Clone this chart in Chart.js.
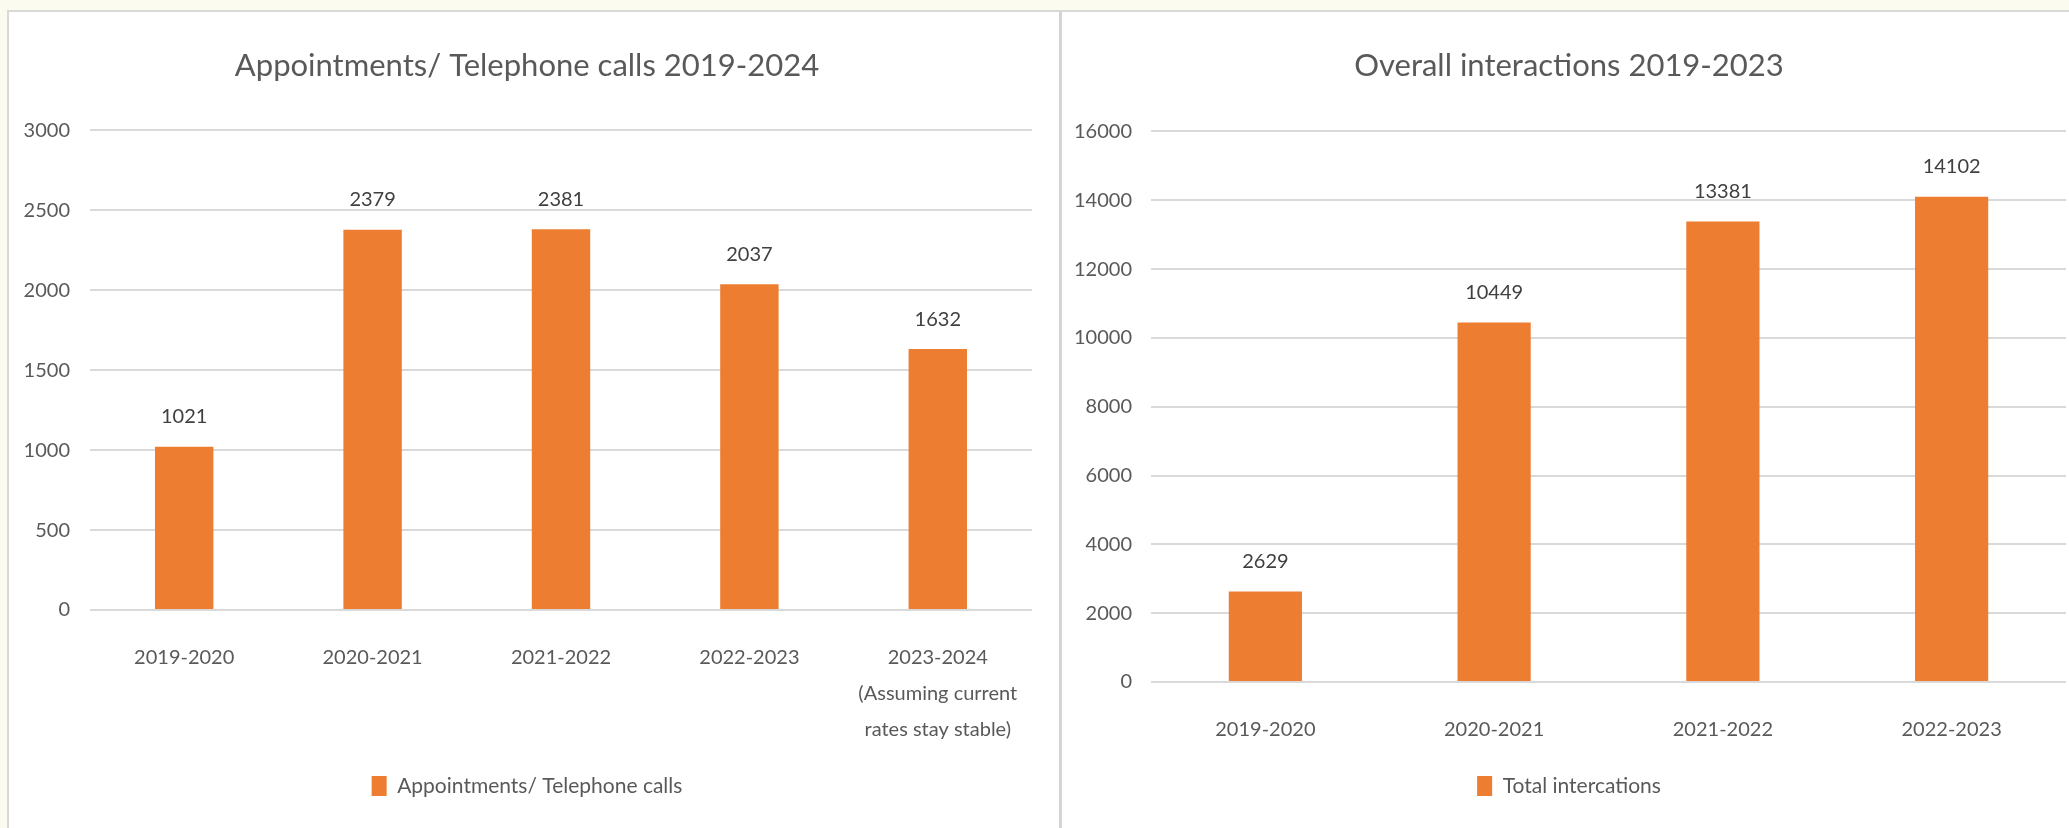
<!DOCTYPE html>
<html>
<head>
<meta charset="utf-8">
<script src="https://cdn.jsdelivr.net/npm/chart.js@4.4.1/dist/chart.umd.min.js"></script>
<style>
  html, body { margin: 0; padding: 0; }
  body { width: 2069px; height: 828px; background: #fbfcef; position: relative; overflow: hidden; }
  .panel { position: absolute; background: #fff; border-top: 2px solid #d9d9d9; }
  #leftPanel { left: 7px; top: 10px; width: 1050px; height: 816px; border-left: 2px solid #d9d9d9; }
  #rightPanel { left: 1059px; top: 10px; width: 1010px; height: 816px; border-left: 3px solid #d4d4d4; }
  canvas { display: block; }
</style>
</head>
<body>
<div class="panel" id="leftPanel"><canvas id="apptChart" width="1050" height="816"></canvas></div>
<div class="panel" id="rightPanel"><canvas id="interChart" width="1007" height="816"></canvas></div>

<script>
// ----------------- Data -----------------
const apptCategories = [
  "2019-2020",
  "2020-2021",
  "2021-2022",
  "2022-2023",
  ["2023-2024", "(Assuming current", "rates stay stable)"]
];
const apptValues = [1021, 2379, 2381, 2037, 1632];
const apptYTicks = [0, 500, 1000, 1500, 2000, 2500, 3000];

const interCategories = ["2019-2020", "2020-2021", "2021-2022", "2022-2023"];
const interValues = [2629, 10449, 13381, 14102];
const interYTicks = [0, 2000, 4000, 6000, 8000, 10000, 12000, 14000, 16000];

// ----------------- Style -----------------
const ORANGE = "#ED7D31";
const TEXT = "#595959";
const GRID = "#d9d9d9";
const FONT = "Lato, 'Open Sans', sans-serif";

// value labels above each bar
const barValueLabels = {
  id: "barValueLabels",
  afterDatasetsDraw(chart) {
    const ctx = chart.ctx;
    const meta = chart.getDatasetMeta(0);
    const values = chart.data.datasets[0].data;
    ctx.save();
    ctx.font = `20px ${FONT}`;
    ctx.fillStyle = "#404040";
    ctx.textAlign = "center";
    ctx.textBaseline = "middle";
    meta.data.forEach((bar, i) => {
      ctx.fillText(String(values[i]), bar.x, bar.y - 30);
    });
    ctx.restore();
  }
};

function makeChart(canvasId, cfg) {
  return new Chart(document.getElementById(canvasId).getContext("2d"), {
    type: "bar",
    data: {
      labels: cfg.labels,
      datasets: [{
        label: cfg.legend,
        data: cfg.values,
        backgroundColor: ORANGE,
        borderWidth: 0,
        barPercentage: cfg.barPct,
        categoryPercentage: 1
      }]
    },
    options: {
      responsive: false,
      animation: false,
      layout: { padding: cfg.padding },
      plugins: {
        title: {
          display: true,
          text: cfg.title,
          color: TEXT,
          font: { family: FONT, size: 31, weight: "normal", lineHeight: 1.2 },
          padding: { top: 35.6, bottom: cfg.titleGap }
        },
        legend: {
          position: "bottom",
          labels: {
            color: TEXT,
            font: { family: FONT, size: 21 },
            boxWidth: 15,
            boxHeight: 20,
            padding: 10
          }
        },
        tooltip: { enabled: false }
      },
      scales: {
        x: {
          grid: { display: false },
          border: { display: false },
          ticks: {
            color: TEXT,
            font: { family: FONT, size: 20, lineHeight: 1.8 },
            padding: 22,
            maxRotation: 0,
            autoSkip: false
          },
          afterFit: s => { s.height = cfg.xHeight; }
        },
        y: {
          min: 0,
          max: cfg.yTicks[cfg.yTicks.length - 1],
          afterBuildTicks: s => { s.ticks = cfg.yTicks.map(v => ({ value: v })); },
          grid: { color: GRID, lineWidth: 2, drawTicks: false },
          border: { display: false },
          ticks: {
            color: TEXT,
            font: { family: FONT, size: 20 },
            padding: cfg.tickPad,
            callback: v => String(v)
          },
          afterFit: s => { s.width = cfg.yWidth; }
        }
      }
    },
    plugins: [barValueLabels]
  });
}

// ----------------- Charts -----------------
makeChart("apptChart", {
  labels: apptCategories,
  values: apptValues,
  yTicks: apptYTicks,
  legend: "Appointments/ Telephone calls",
  title: "Appointments/ Telephone calls 2019-2024",
  barPct: 0.31,
  padding: { top: 0, left: 13, right: 27, bottom: 21.5 },
  titleGap: 45.6,
  xHeight: 155.5,
  yWidth: 68,
  tickPad: 20
});

makeChart("interChart", {
  labels: interCategories,
  values: interValues,
  yTicks: interYTicks,
  legend: "Total intercations",
  title: "Overall interactions 2019-2023",
  barPct: 0.32,
  padding: { top: 0, left: 10, right: 3, bottom: 21.5 },
  titleGap: 46.6,
  xHeight: 83.5,
  yWidth: 79,
  tickPad: 19
});
</script>
</body>
</html>
